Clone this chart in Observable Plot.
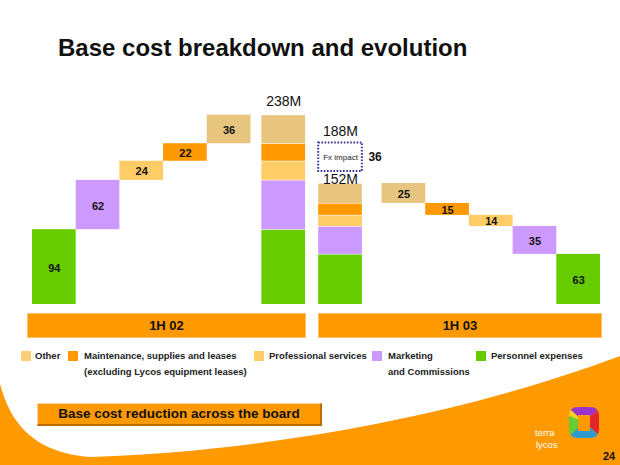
<!DOCTYPE html>
<html>
<head>
<meta charset="utf-8">
<script src="https://cdn.jsdelivr.net/npm/d3@7"></script>
<script src="https://cdn.jsdelivr.net/npm/@observablehq/plot@0.6"></script>
<style>
  html, body { margin: 0; padding: 0; background: #fff; }
  body { font-family: "Liberation Sans", Arial, sans-serif; }
  #page { position: relative; width: 620px; height: 465px; overflow: hidden; background: #fff; }
  .abs { position: absolute; }
  #title { left: 58px; top: 34px; font-size: 24px; line-height: 28px; font-weight: bold; color: #111; white-space: nowrap; }
  .period { background: #FF9900; border: 1px solid #FFC266; box-sizing: border-box; height: 25px; top: 313px;
            font-weight: bold; font-size: 13px; color: #111; text-align: center; line-height: 23px; }
  .lg { font-size: 9.5px; font-weight: bold; color: #222; white-space: nowrap; line-height: 16px; }
  .sw { width: 10px; height: 10px; }
  #callout { left: 37px; top: 403px; width: 285px; height: 23px; background: #FF9900; box-sizing: border-box;
             border-top: 1px solid #FFD699; border-left: 1px solid #FFD699; border-right: 2px solid #B86E00; border-bottom: 2px solid #B86E00;
             font-weight: bold; font-size: 13.5px; color: #111; text-align: center; line-height: 20px; }
</style>
</head>
<body>
<div id="page">
  <svg class="abs" style="left:0;top:0" width="620" height="465">
    <path d="M0,384 C10,420 30,452 90,457 C250,452 450,420 620,356 L620,465 L0,465 Z" fill="#FF9900"/>
  </svg>
  <div id="title" class="abs">Base cost breakdown and evolution</div>
  <div id="chart" class="abs" style="left:0;top:80px"></div>
  <div id="periods"></div>
  <div id="legend"></div>
  <div id="callout" class="abs">Base cost reduction across the board</div>
  <svg class="abs" style="left:0;top:0" width="620" height="465">
    <defs>
      <clipPath id="ring">
        <path clip-rule="evenodd" d="M578,407 H590 Q599,407 599,416 V429 Q599,438 590,438 H578 Q569,438 569,429 V416 Q569,407 578,407 Z M578,415 H590 V431 H578 Z"/>
      </clipPath>
    </defs>
    <g clip-path="url(#ring)">
      <polygon points="584,422 560,400 560,445" fill="#66CC33"/>
      <polygon points="584,422 560,400 610,400" fill="#9933CC"/>
      <polygon points="584,422 610,400 610,445" fill="#E3262B"/>
      <polygon points="584,422 610,445 560,445" fill="#2E9BD0"/>
      <polygon points="584,422 560,400 575,400 560,412" fill="#F4D21E"/>
    </g>
    <text x="535" y="436" fill="#fff" font-size="9.5" font-family="Liberation Sans, Arial, sans-serif">terra</text>
    <text x="536" y="448" fill="#fff" font-size="9.5" font-family="Liberation Sans, Arial, sans-serif">lycos</text>
    <text x="603" y="460" fill="#111" font-size="11" font-weight="bold" font-family="Liberation Sans, Arial, sans-serif">24</text>
  </svg>
</div>
<script>
// ---- data ----
const categories = ["Other", "Maintenance, supplies and leases", "Professional services", "Marketing and Commissions", "Personnel expenses"];
const colors = ["#E8C57F", "#FF9900", "#FFCC66", "#CC99FF", "#66CC00"];
const legendColors = ["#FFCC77", "#FF9900", "#FFCC66", "#CC99FF", "#66CC00"];
const legendLine1 = ["Other", "Maintenance, supplies and leases", "Professional services", "Marketing", "Personnel expenses"];
const legendLine2 = ["", "(excluding Lycos equipment leases)", "", "and Commissions", ""];
const values1H02 = [36, 22, 24, 62, 94];
const values1H03 = [25, 15, 14, 35, 63];
const totalLabels = ["238M", "188M", "152M"];
const fxTotal = 188;
const fxImpact = 36;
const fxLabel = "Fx impact";
const periods = ["1H 02", "1H 03"];

// ---- layout (slot units: one bar width) ----
const slotWF02 = [0, 1, 2, 3, 4];
const slotTot02 = 5.25;
const slotTot03 = 6.55;
const slotWF03 = [8, 9, 10, 11, 12];

const rows = [];
// 1H02 waterfall rising: Personnel first (bottom) up to Other
{
  let base = 0;
  const order = [4, 3, 2, 1, 0];
  order.forEach((ci, k) => {
    rows.push({x: slotWF02[k], y1: base, y2: base + values1H02[ci], color: colors[ci], label: String(values1H02[ci]), kind: "wf"});
    base += values1H02[ci];
  });
}
// stacked totals
function stacked(values, slot) {
  let base = 0;
  [4, 3, 2, 1, 0].forEach(ci => {
    rows.push({x: slot, y1: base, y2: base + values[ci], color: colors[ci], label: "", kind: "stack"});
    base += values[ci];
  });
  return base;
}
const tot02 = stacked(values1H02, slotTot02);
const tot03 = stacked(values1H03, slotTot03);
// 1H03 waterfall falling: Other first from the top
{
  let top = tot03;
  [0, 1, 2, 3, 4].forEach((ci, k) => {
    rows.push({x: slotWF03[k], y1: top - values1H03[ci], y2: top, color: colors[ci], label: String(values1H03[ci]), kind: "wf"});
    top -= values1H03[ci];
  });
}
const wf = rows.filter(d => d.kind === "wf");
const st = rows.filter(d => d.kind === "stack");

const font = "Liberation Sans, Arial, sans-serif";
const chart = Plot.plot({
  width: 620,
  height: 230,
  marginTop: 33,
  marginBottom: 6,
  marginLeft: 32,
  marginRight: 20,
  x: {domain: [0, 13], axis: null},
  y: {domain: [0, 240], axis: null},
  color: {type: "identity"},
  style: {fontFamily: font, background: "transparent"},
  marks: [
    Plot.rect(wf, {x1: "x", x2: d => d.x + 1, y1: "y1", y2: "y2", fill: "color"}),
    Plot.rect(st, {x1: "x", x2: d => d.x + 1, y1: "y1", y2: "y2", fill: "color", insetTop: 0.6}),
    Plot.text(wf, {x: d => d.x + 0.5, y: d => (d.y1 + d.y2) / 2, text: "label", fontSize: 11, fontWeight: "bold", fill: "#111", dy: 1}),
    Plot.text([{x: slotTot02 + 0.5, y: tot02, t: totalLabels[0]}], {x: "x", y: "y", text: "t", fontSize: 14, fill: "#111", dy: -14}),
    Plot.rect([{x: slotTot03, y1: tot03, y2: fxTotal}], {x1: "x", x2: d => d.x + 1, y1: "y1", y2: "y2", fill: "none", stroke: "#33339A", strokeWidth: 2, strokeDasharray: "1.6,1.6", dy: -12}),
    Plot.text([{x: slotTot03 + 0.5, y: (tot03 + fxTotal) / 2}], {x: "x", y: "y", text: () => fxLabel, fontSize: 8, fill: "#222", dy: -12}),
    Plot.text([{x: slotTot03 + 1, y: (tot03 + fxTotal) / 2}], {x: "x", y: "y", text: () => String(fxImpact), fontSize: 12, fontWeight: "bold", fill: "#111", textAnchor: "start", dx: 6, dy: -12}),
    Plot.text([{x: slotTot03 + 0.5, y: fxTotal, t: totalLabels[1]}], {x: "x", y: "y", text: "t", fontSize: 14, fill: "#111", dy: -23}),
    Plot.text([{x: slotTot03 + 0.5, y: tot03, t: totalLabels[2]}], {x: "x", y: "y", text: "t", fontSize: 14, fill: "#111", lineAnchor: "bottom", dy: 0})
  ]
});
document.getElementById("chart").appendChild(chart);

// period bars
const pdiv = document.getElementById("periods");
const periodBoxes = [[27, 279], [318, 284]];
periods.forEach((p, i) => {
  const d = document.createElement("div");
  d.className = "abs period";
  d.style.left = periodBoxes[i][0] + "px";
  d.style.width = periodBoxes[i][1] + "px";
  d.textContent = p;
  pdiv.appendChild(d);
});

// legend
const ldiv = document.getElementById("legend");
const lgX = [21, 68, 254, 372, 476];
const lgGap = [14, 16, 15, 16, 15];
categories.forEach((c, i) => {
  const s = document.createElement("div");
  s.className = "abs sw";
  s.style.left = lgX[i] + "px";
  s.style.top = "351px";
  s.style.background = legendColors[i];
  ldiv.appendChild(s);
  const t = document.createElement("div");
  t.className = "abs lg";
  t.style.left = (lgX[i] + lgGap[i]) + "px";
  t.style.top = "348px";
  t.innerHTML = legendLine1[i] + (legendLine2[i] ? "<br>" + legendLine2[i] : "");
  ldiv.appendChild(t);
});
</script>
</body>
</html>
